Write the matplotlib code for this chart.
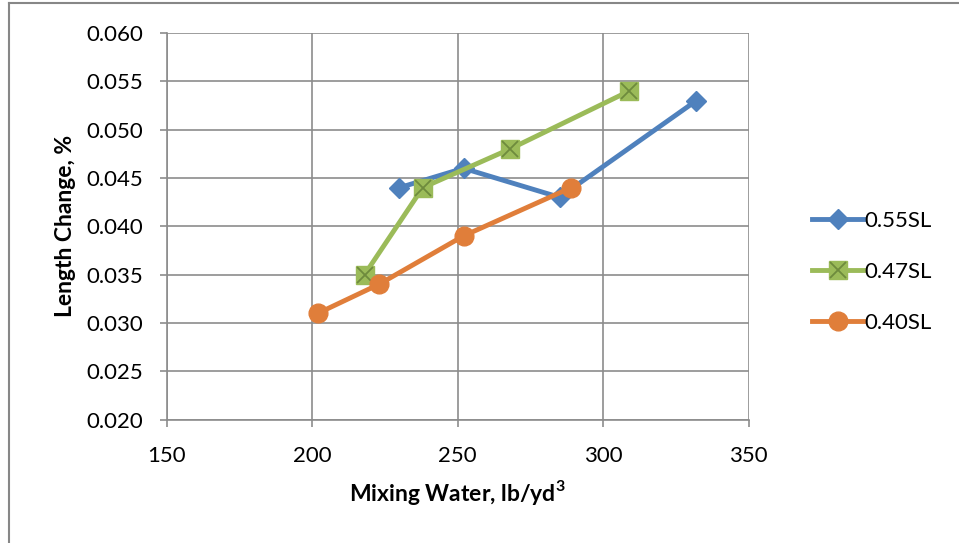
import matplotlib.pyplot as plt
from matplotlib.lines import Line2D
from matplotlib.legend_handler import HandlerTuple

# Mixing water (lb/yd3) vs. length change (%)
water_055 = [230, 252, 285, 332]
change_055 = [0.044, 0.046, 0.043, 0.053]

water_047 = [218, 238, 268, 309]
change_047 = [0.035, 0.044, 0.048, 0.054]

water_040 = [202, 223, 252, 289]
change_040 = [0.031, 0.034, 0.039, 0.044]

labels = ['0.55SL', '0.47SL', '0.40SL']

plt.rcParams['font.family'] = ['Lato', 'DejaVu Sans']
plt.rcParams['mathtext.fontset'] = 'custom'
plt.rcParams['mathtext.rm'] = 'Lato'
plt.rcParams['mathtext.bf'] = 'Lato:bold'

blue = '#4F81BD'
green = '#9BBB59'
green_dark = '#6E8B3D'
orange = '#E07E3A'
grid_col = '#8C8C8C'

fig = plt.figure(figsize=(9.59, 5.43), dpi=100)
ax = fig.add_axes([0.1738, 0.2274, 0.6069, 0.7118])

l1, = ax.plot(water_055, change_055, color=blue, lw=3.5, marker='D', ms=10.5,
              markerfacecolor=blue, markeredgecolor=blue, zorder=3)
l2, = ax.plot(water_047, change_047, color=green, lw=3.5, marker='s', ms=13,
              markerfacecolor=green, markeredgecolor=green, zorder=4)
l2x, = ax.plot(water_047, change_047, linestyle='none', marker='x', ms=12,
               mew=1.3, color=green_dark, zorder=5)
l3, = ax.plot(water_040, change_040, color=orange, lw=3.5, marker='o', ms=13.5,
              markerfacecolor=orange, markeredgecolor=orange, zorder=6)

ax.set_xlim(150, 350)
ax.set_ylim(0.020, 0.060)
ax.set_xticks([150, 200, 250, 300, 350])
ax.set_yticks([0.020, 0.025, 0.030, 0.035, 0.040, 0.045, 0.050, 0.055, 0.060])
ax.set_yticklabels([f'{v:.3f}' for v in ax.get_yticks()])
ax.grid(True, color=grid_col, lw=1.2)
ax.set_axisbelow(True)

for s in ['top', 'right']:
    ax.spines[s].set_visible(False)
for s in ['left', 'bottom']:
    ax.spines[s].set_color(grid_col)
    ax.spines[s].set_linewidth(1.2)
ax.tick_params(axis='both', colors=grid_col, labelcolor='black', labelsize=16,
               length=5, width=1.2, direction='out')
ax.tick_params(axis='x', pad=14)
ax.tick_params(axis='y', pad=12)

ax.set_xlabel('Mixing Water, lb/yd$^\\mathbf{3}$', fontsize=16.5, fontweight='bold', labelpad=9)
ax.set_ylabel('Length Change, %', fontsize=16.5, fontweight='bold', labelpad=7)

handles = [l1, (l2, l2x), l3]
ax.legend(handles, labels, loc='center left', bbox_to_anchor=(1.075, 0.382),
          frameon=False, fontsize=16, handlelength=2.3, handletextpad=0.05,
          labelspacing=1.4, handler_map={tuple: HandlerTuple(ndivide=1, pad=0)})

# outer chart border (left and top edges)
fig.add_artist(Line2D([8.5 / 959, 8.5 / 959], [0, 1 - 3 / 543], transform=fig.transFigure,
                      color='#878787', lw=1.5))
fig.add_artist(Line2D([8.5 / 959, 1], [1 - 3 / 543, 1 - 3 / 543], transform=fig.transFigure,
                      color='#878787', lw=1.5))

fig.savefig('out.png', dpi=100)
